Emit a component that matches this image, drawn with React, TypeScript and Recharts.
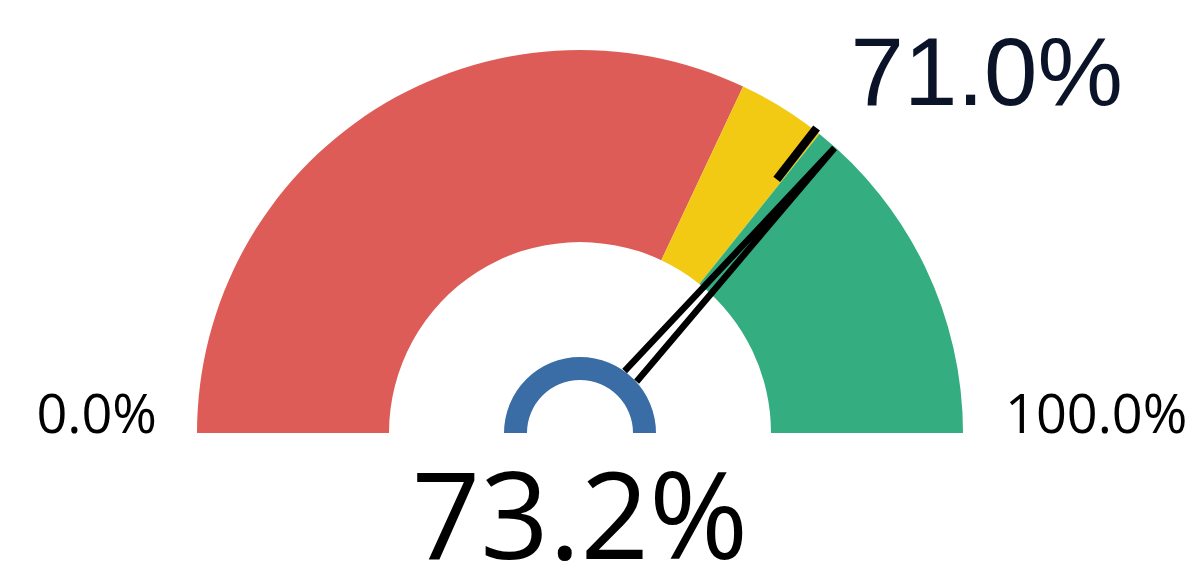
import React from 'react';
import { PieChart, Pie, Cell } from 'recharts';

// gauge bands, left to right
const bandNames = ['Low', 'Mid', 'High'];
const bandValues = [64, 7.5, 28.5];
const bandColors = ['#dd5c57', '#f2c913', '#34ae80'];

const gaugeMin = 0;
const gaugeMax = 100;
const actualValue = 73.2;
const targetValue = 71.0;

const minLabel = '0.0%';
const maxLabel = '100.0%';
const actualLabel = '73.2%';
const targetLabel = '71.0%';

const bandData = bandNames.map((name, i) => ({ name, value: bandValues[i] }));
const needleData = [
    { name: 'actual', value: actualValue - gaugeMin },
    { name: 'rest', value: gaugeMax - actualValue },
];
const targetData = [
    { name: 'target', value: targetValue - gaugeMin },
    { name: 'rest', value: gaugeMax - targetValue },
];
const hubData = [{ name: 'hub', value: 1 }];

const RAD = Math.PI / 180;
const polar = (cx: number, cy: number, r: number, angle: number) => ({
    x: cx + r * Math.cos(angle * RAD),
    y: cy - r * Math.sin(angle * RAD),
});

const CX = 580;
const CY = 433;
const OUTER = 383;
const INNER = 191;
const HUB_OUTER = 76;
const HUB_INNER = 53;
const NEEDLE_HALF = 10;

const renderRangeLabels = (props: any) => {
    const { cx, cy, startAngle, endAngle, outerRadius, index } = props;
    if (index === 0) {
        const p = polar(cx, cy, outerRadius, startAngle);
        return (
            <text x={p.x - 40} y={cy} textAnchor="end" fontSize={54} fontFamily="'Open Sans', sans-serif" fill="#000">
                {minLabel}
            </text>
        );
    }
    if (index === bandData.length - 1) {
        const p = polar(cx, cy, outerRadius, endAngle);
        return (
            <text x={p.x + 42} y={cy} textAnchor="start" fontSize={54} fontFamily="'Open Sans', sans-serif" fill="#000">
                {maxLabel}
            </text>
        );
    }
    return null;
};

const renderTarget = (props: any) => {
    if (props.index !== 0) return null;
    const { cx, cy, endAngle } = props;
    const a = polar(cx, cy, 321, endAngle);
    const b = polar(cx, cy, 386, endAngle);
    return (
        <g>
            <line x1={a.x} y1={a.y} x2={b.x} y2={b.y} stroke="#000" strokeWidth={8.5} />
            <text
                x={b.x + 34}
                y={b.y - 23}
                textAnchor="start"
                fontSize={96}
                fontFamily="'Liberation Sans', Arial, sans-serif"
                fill="#0b1329"
            >
                {targetLabel}
            </text>
        </g>
    );
};

const renderNeedle = (props: any) => {
    if (props.index !== 0) return null;
    const { cx, cy, endAngle, outerRadius } = props;
    const tip = polar(cx, cy, outerRadius - 1, endAngle);
    // slim triangle from a 10px half-width base at the centre to the tip;
    // only the part outside the hub is drawn
    const t = HUB_OUTER / (outerRadius - 1);
    const half = NEEDLE_HALF * (1 - t);
    const base = polar(cx, cy, HUB_OUTER, endAngle);
    const dx = Math.cos((endAngle + 90) * RAD) * half;
    const dy = -Math.sin((endAngle + 90) * RAD) * half;
    const left = { x: base.x + dx, y: base.y + dy };
    const right = { x: base.x - dx, y: base.y - dy };
    return (
        <g>
            <polyline
                points={`${left.x},${left.y} ${tip.x},${tip.y} ${right.x},${right.y}`}
                fill="none"
                stroke="#000"
                strokeWidth={6.5}
                strokeLinejoin="bevel"
            />
            <text x={cx} y={559} textAnchor="middle" fontSize={120} fontFamily="'Open Sans', sans-serif" fill="#000">
                {actualLabel}
            </text>
        </g>
    );
};

export default function App() {
    return (
        <div style={{ position: 'absolute', left: 0, top: 0, width: 1190, height: 566, background: '#fff' }}>
            <PieChart width={1190} height={566} margin={{ top: 0, right: 0, bottom: 0, left: 0 }}>
                <Pie
                    data={bandData}
                    dataKey="value"
                    cx={CX}
                    cy={CY}
                    startAngle={180}
                    endAngle={0}
                    innerRadius={INNER}
                    outerRadius={OUTER}
                    stroke="none"
                    label={renderRangeLabels}
                    labelLine={false}
                    isAnimationActive={false}
                >
                    {bandData.map((d, i) => (
                        <Cell key={d.name} fill={bandColors[i]} />
                    ))}
                </Pie>
                <Pie
                    data={hubData}
                    dataKey="value"
                    cx={CX}
                    cy={CY}
                    startAngle={180}
                    endAngle={0}
                    innerRadius={HUB_INNER}
                    outerRadius={HUB_OUTER}
                    fill="#3a6ca6"
                    stroke="none"
                    isAnimationActive={false}
                />
                <Pie
                    data={targetData}
                    dataKey="value"
                    cx={CX}
                    cy={CY}
                    startAngle={180}
                    endAngle={0}
                    innerRadius={INNER}
                    outerRadius={OUTER}
                    fill="none"
                    stroke="none"
                    label={renderTarget}
                    labelLine={false}
                    isAnimationActive={false}
                />
                <Pie
                    data={needleData}
                    dataKey="value"
                    cx={CX}
                    cy={CY}
                    startAngle={180}
                    endAngle={0}
                    innerRadius={0}
                    outerRadius={OUTER}
                    fill="none"
                    stroke="none"
                    label={renderNeedle}
                    labelLine={false}
                    isAnimationActive={false}
                />
            </PieChart>
        </div>
    );
}
